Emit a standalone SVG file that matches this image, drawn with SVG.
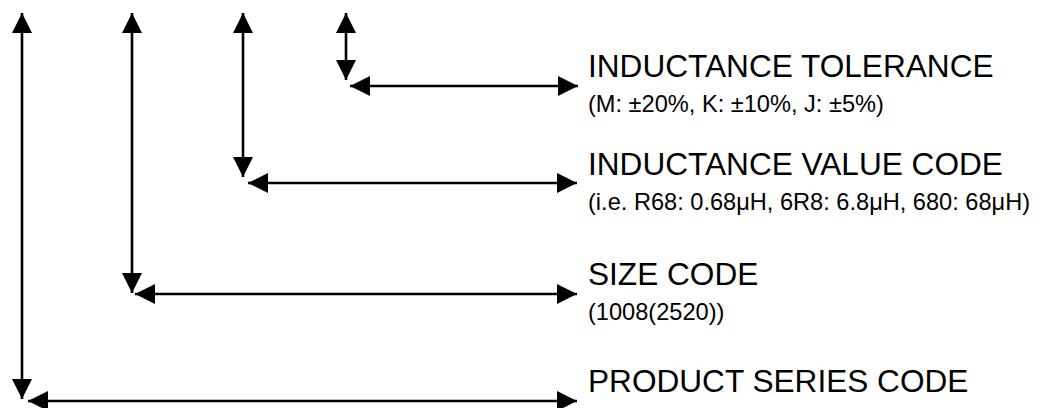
<svg xmlns="http://www.w3.org/2000/svg" width="1040" height="408" viewBox="0 0 1040 408">
<style>
  .ln{stroke:#000;stroke-width:2.6;fill:none;marker-start:url(#ah);marker-end:url(#ah)}
  .t{font-family:"Liberation Sans",Arial,sans-serif;font-size:31.6px;fill:#000}
  .s{font-family:"Liberation Sans",Arial,sans-serif;font-size:23.6px;fill:#000}
</style>
<defs>
  <marker id="ah" markerUnits="userSpaceOnUse" markerWidth="20" markerHeight="20" refX="20" refY="10" orient="auto-start-reverse" viewBox="0 0 20 20">
    <path d="M0,0 L20,10 L0,20 Z" fill="#000"/>
  </marker>
</defs>
<g id="connectors">
  <line class="ln" x1="22" y1="13" x2="22" y2="399"/>
  <line class="ln" x1="28" y1="401" x2="577" y2="401"/>
  <line class="ln" x1="132" y1="13" x2="132" y2="293"/>
  <line class="ln" x1="135" y1="294" x2="577" y2="294"/>
  <line class="ln" x1="243" y1="13" x2="243" y2="177"/>
  <line class="ln" x1="248" y1="183" x2="577" y2="183"/>
  <line class="ln" x1="346" y1="13" x2="346" y2="80"/>
  <line class="ln" x1="350" y1="86" x2="578" y2="86"/>
</g>
<g id="tolerance">
  <text class="t" x="588" y="77">INDUCTANCE TOLERANCE</text>
  <text class="s" x="588" y="112">(M: ±20%, K: ±10%, J: ±5%)</text>
</g>
<g id="value">
  <text class="t" x="588" y="175">INDUCTANCE VALUE CODE</text>
  <text class="s" x="588" y="210">(i.e. R68: 0.68μH, 6R8: 6.8μH, 680: 68μH)</text>
</g>
<g id="size">
  <text class="t" x="588" y="285">SIZE CODE</text>
  <text class="s" x="588" y="320">(1008(2520))</text>
</g>
<g id="series">
  <text class="t" x="588" y="392">PRODUCT SERIES CODE</text>
</g>
</svg>
